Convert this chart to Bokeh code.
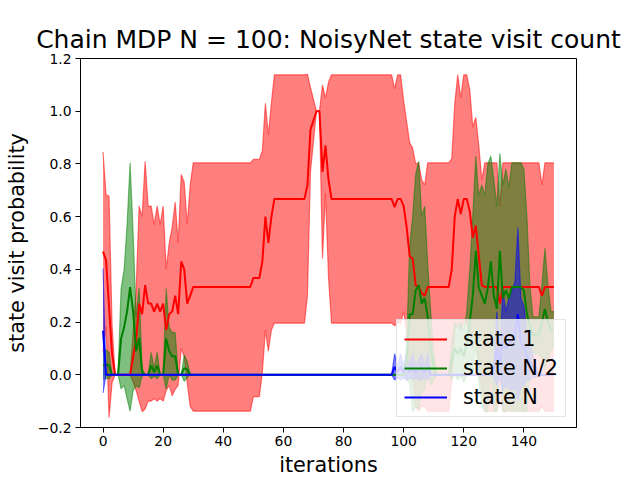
from bokeh.plotting import figure
from bokeh.models import FixedTicker, Legend, LegendItem, Range1d
from bokeh.embed import file_html
from bokeh.resources import INLINE
import numpy as np

iterations = list(range(151))

r_mean = [0.467, 0.434, 0.257, 0.08, 0, 0, 0, 0, 0, 0,
          0.067, 0.13, 0.27, 0.23, 0.34, 0.27, 0.27, 0.24, 0.27, 0.24,
          0.27, 0.17, 0.23, 0.24, 0.30, 0.23, 0.43, 0.40, 0.27, 0.30,
          0.333, 0.333, 0.333, 0.333, 0.333, 0.333, 0.333, 0.333, 0.333, 0.333,
          0.333, 0.333, 0.333, 0.333, 0.333, 0.333, 0.333, 0.333, 0.333, 0.333,
          0.367, 0.367, 0.367, 0.43, 0.60, 0.50, 0.60,
          0.667, 0.667, 0.667, 0.667, 0.667, 0.667, 0.667, 0.667, 0.667, 0.667, 0.667,
          0.72, 0.93, 0.965, 1.0, 1.0, 0.77, 0.87, 0.74,
          0.667, 0.667, 0.667, 0.667, 0.667, 0.667, 0.667, 0.667, 0.667, 0.667,
          0.667, 0.667, 0.667, 0.667, 0.667, 0.667, 0.667, 0.667, 0.667, 0.667, 0.667,
          0.636, 0.667, 0.667, 0.64, 0.56, 0.45, 0.44, 0.34, 0.333, 0.31, 0.30,
          0.333, 0.333, 0.333, 0.333, 0.333, 0.333, 0.333, 0.333,
          0.40, 0.60, 0.667, 0.61, 0.667, 0.667, 0.62, 0.52, 0.566, 0.45, 0.34,
          0.333, 0.333, 0.333, 0.333, 0.333,
          0.27,
          0.333, 0.333, 0.333, 0.333, 0.333, 0.333, 0.333, 0.333, 0.333, 0.333, 0.333, 0.333, 0.333,
          0.30,
          0.333, 0.333, 0.333, 0.333]

r_std = [0.378, 0.25, 0.42, 0.11, 0, 0, 0, 0, 0, 0,
         0.094, 0.19, 0.37, 0.37, 0.47, 0.37, 0.37, 0.33, 0.37, 0.33,
         0.37, 0.23, 0.27, 0.32, 0.355, 0.27, 0.33, 0.33, 0.30, 0.42,
         0.471, 0.471, 0.471, 0.471, 0.471, 0.471, 0.471, 0.471, 0.471, 0.471,
         0.471, 0.471, 0.471, 0.471, 0.471, 0.471, 0.471, 0.471, 0.471, 0.471,
         0.45, 0.45, 0.45, 0.42, 0.43, 0.41, 0.43,
         0.471, 0.471, 0.471, 0.471, 0.471, 0.471, 0.471, 0.471, 0.471, 0.471, 0.471,
         0.42, 0.16, 0.08, 0, 0, 0.33, 0.18, 0.37,
         0.471, 0.471, 0.471, 0.471, 0.471, 0.471, 0.471, 0.471, 0.471, 0.471,
         0.471, 0.471, 0.471, 0.471, 0.471, 0.471, 0.471, 0.471, 0.471, 0.471, 0.471,
         0.45, 0.471, 0.471, 0.40, 0.40, 0.43, 0.42, 0.46, 0.471, 0.43, 0.42,
         0.471, 0.471, 0.471, 0.471, 0.471, 0.471, 0.471, 0.471,
         0.42, 0.43, 0.471, 0.44, 0.471, 0.471, 0.46, 0.42, 0.41, 0.42, 0.40,
         0.471, 0.471, 0.471, 0.471, 0.471,
         0.37,
         0.471, 0.471, 0.471, 0.471, 0.471, 0.471, 0.471, 0.471, 0.471, 0.471, 0.471, 0.471, 0.471,
         0.42,
         0.471, 0.471, 0.471, 0.471]

g_mean = [0.035, 0.04, 0.035, 0, 0, 0, 0.137, 0.18, 0.24, 0.333,
          0.24, 0.09, 0.14, 0.01, 0, 0, 0.035, 0.01, 0.035, 0,
          0, 0.137, 0.09, 0.07, 0.07, 0, 0, 0.025, 0.02,
          0, 0, 0, 0, 0, 0, 0, 0, 0, 0, 0, 0, 0, 0, 0, 0, 0, 0, 0, 0,
          0, 0, 0, 0, 0, 0, 0, 0, 0, 0, 0, 0, 0, 0, 0, 0, 0, 0, 0, 0,
          0, 0, 0, 0, 0, 0, 0, 0, 0, 0, 0, 0, 0, 0, 0, 0, 0, 0, 0, 0,
          0, 0, 0, 0, 0, 0, 0, 0, 0, 0, 0, 0,
          0.05, 0.23, 0.23, 0.32, 0.34, 0.27, 0.29, 0.22, 0.10, 0.03,
          0, 0, 0, 0, 0,
          0.05, 0.10, 0.08, 0.10, 0.07, 0.12, 0.20, 0.30, 0.47, 0.33,
          0.30, 0.27, 0.33, 0.43, 0.30, 0.25, 0.47, 0.29, 0.32, 0.29,
          0.333, 0.333, 0.333, 0.333, 0.32, 0.23, 0.19, 0.15, 0.15, 0.15,
          0.20, 0.25, 0.20, 0.17, 0.17]

g_std = [0.05, 0.055, 0.05, 0, 0, 0, 0.19, 0.22, 0.33, 0.471,
         0.30, 0.13, 0.19, 0.015, 0, 0, 0.05, 0.015, 0.05, 0,
         0, 0.19, 0.09, 0.09, 0.09, 0, 0, 0.05, 0.03,
         0, 0, 0, 0, 0, 0, 0, 0, 0, 0, 0, 0, 0, 0, 0, 0, 0, 0, 0, 0,
         0, 0, 0, 0, 0, 0, 0, 0, 0, 0, 0, 0, 0, 0, 0, 0, 0, 0, 0, 0,
         0, 0, 0, 0, 0, 0, 0, 0, 0, 0, 0, 0, 0, 0, 0, 0, 0, 0, 0, 0,
         0, 0, 0, 0, 0, 0, 0, 0, 0, 0, 0, 0,
         0.07, 0.26, 0.37, 0.44, 0.47, 0.33, 0.35, 0.20, 0.14, 0.05,
         0, 0, 0, 0, 0,
         0.07, 0.10, 0.10, 0.10, 0.10, 0.12, 0.20, 0.30, 0.36, 0.35,
         0.42, 0.41, 0.47, 0.40, 0.44, 0.39, 0.37, 0.43, 0.46, 0.42,
         0.471, 0.471, 0.471, 0.471, 0.46, 0.37, 0.15, 0.07, 0.07, 0.07,
         0.14, 0.23, 0.14, 0.07, 0.07]

b_mean = [0.167,
          0, 0, 0, 0, 0, 0, 0, 0, 0, 0, 0, 0, 0, 0, 0, 0, 0, 0, 0, 0, 0, 0, 0, 0,
          0, 0, 0, 0, 0, 0, 0, 0, 0, 0, 0, 0, 0, 0, 0, 0, 0, 0, 0, 0, 0, 0, 0, 0,
          0, 0, 0, 0, 0, 0, 0, 0, 0, 0, 0, 0, 0, 0, 0, 0, 0, 0, 0, 0, 0, 0, 0, 0,
          0, 0, 0, 0, 0, 0, 0, 0, 0, 0, 0, 0, 0, 0, 0, 0, 0, 0, 0, 0, 0, 0, 0, 0,
          0.03, 0.01, 0.03, 0.01, 0.03, 0.01, 0.03, 0.01, 0.02, 0.03, 0.01, 0.03,
          0, 0, 0, 0, 0, 0, 0, 0, 0, 0, 0, 0, 0, 0, 0, 0, 0, 0, 0, 0, 0,
          0.02, 0.10, 0.04, 0.13, 0.10, 0.12, 0.13, 0.15, 0.23, 0.12, 0.11, 0.07, 0.05, 0.03, 0.01,
          0, 0, 0, 0, 0, 0]

b_std = [0.236,
         0, 0, 0, 0, 0, 0, 0, 0, 0, 0, 0, 0, 0, 0, 0, 0, 0, 0, 0, 0, 0, 0, 0, 0,
         0, 0, 0, 0, 0, 0, 0, 0, 0, 0, 0, 0, 0, 0, 0, 0, 0, 0, 0, 0, 0, 0, 0, 0,
         0, 0, 0, 0, 0, 0, 0, 0, 0, 0, 0, 0, 0, 0, 0, 0, 0, 0, 0, 0, 0, 0, 0, 0,
         0, 0, 0, 0, 0, 0, 0, 0, 0, 0, 0, 0, 0, 0, 0, 0, 0, 0, 0, 0, 0, 0, 0, 0,
         0.05, 0.02, 0.05, 0.02, 0.05, 0.02, 0.05, 0.02, 0.04, 0.05, 0.02, 0.05,
         0, 0, 0, 0, 0, 0, 0, 0, 0, 0, 0, 0, 0, 0, 0, 0, 0, 0, 0, 0, 0,
         0.03, 0.14, 0.05, 0.19, 0.14, 0.17, 0.19, 0.20, 0.33, 0.17, 0.15, 0.09, 0.07, 0.04, 0.02,
         0, 0, 0, 0, 0, 0]

series_names = ["state 1", "state N/2", "state N"]
series_colors = ["#ff0000", "#008000", "#0000ff"]

x_ticks = [0, 20, 40, 60, 80, 100, 120, 140]
y_ticks = [-0.2, 0.0, 0.2, 0.4, 0.6, 0.8, 1.0, 1.2]
y_tick_labels = ["\u22120.2", "0.0", "0.2", "0.4", "0.6", "0.8", "1.0", "1.2"]

FONT = "DejaVu Sans"

p = figure(width=640, height=480, output_backend="svg", toolbar_location=None,
           x_range=Range1d(-7.5, 157.5), y_range=Range1d(-0.2, 1.2),
           min_border_left=80, min_border_right=64, min_border_top=58,
           min_border_bottom=53)

p.title.text = "Chain MDP N = 100: NoisyNet state visit count"
p.title.text_font = FONT
p.title.text_font_size = "25px"
p.title.text_font_style = "normal"
p.title.align = "center"
p.title.text_color = "black"

p.grid.visible = False
p.outline_line_color = "black"
p.outline_line_width = 1
p.outline_line_alpha = 1

for ax in (p.xaxis, p.yaxis):
    ax.axis_line_color = "black"
    ax.axis_line_width = 1
    ax.major_tick_in = 0
    ax.major_tick_out = 5
    ax.minor_tick_in = 0
    ax.minor_tick_out = 0
    ax.major_label_text_font = FONT
    ax.major_label_text_font_size = "13.9px"
    ax.major_label_text_color = "black"
    ax.axis_label_text_font = FONT
    ax.axis_label_text_font_size = "20.8px"
    ax.axis_label_text_font_style = "normal"
    ax.axis_label_text_color = "black"

p.xaxis.ticker = FixedTicker(ticks=x_ticks)
p.yaxis.ticker = FixedTicker(ticks=y_ticks)
p.yaxis.major_label_overrides = {t: l for t, l in zip(y_ticks, y_tick_labels)}
p.xaxis.axis_label = "iterations"
p.yaxis.axis_label = "state visit probability"
p.xaxis.major_label_standoff = 3
p.yaxis.major_label_standoff = 4
p.xaxis.axis_label_standoff = 4
p.yaxis.axis_label_standoff = 6

x = np.array(iterations)
means = [np.array(r_mean), np.array(g_mean), np.array(b_mean)]
stds = [np.array(r_std), np.array(g_std), np.array(b_std)]

# shaded bands first (below all mean lines)
for m, s, c in zip(means, stds, series_colors):
    lo = m - s
    hi = m + s
    p.varea(x=x, y1=lo, y2=hi, fill_color=c, fill_alpha=0.5)
    p.line(x, hi, line_color=c, line_alpha=0.5, line_width=1.2)
    p.line(x, lo, line_color=c, line_alpha=0.5, line_width=1.2)

items = []
for m, c, name in zip(means, series_colors, series_names):
    r = p.line(x, m, line_color=c, line_width=2)
    items.append(LegendItem(label=name, renderers=[r]))

legend = Legend(items=items, location=(316, 10))
legend.label_text_font = FONT
legend.label_text_font_size = "20.8px"
legend.label_text_color = "black"
legend.glyph_width = 43
legend.glyph_height = 24
legend.label_height = 24
legend.label_standoff = 16
legend.spacing = 5
legend.padding = 7
legend.margin = 0
legend.border_line_color = "#cccccc"
legend.border_line_width = 1
legend.background_fill_color = "white"
legend.background_fill_alpha = 0.8
p.add_layout(legend)

open("out.html", "w").write(file_html(p, INLINE))
